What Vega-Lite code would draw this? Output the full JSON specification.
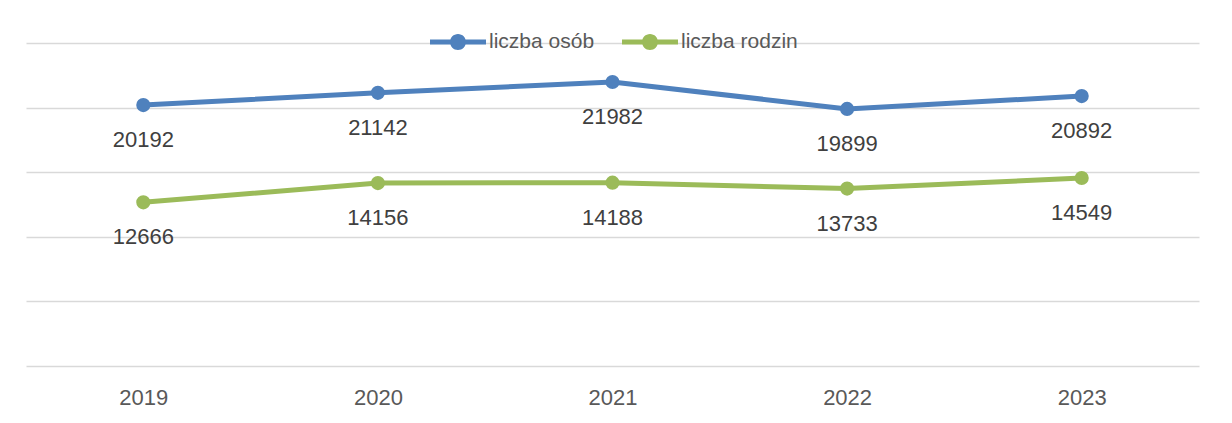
{
  "$schema": "https://vega.github.io/schema/vega-lite/v6.json",
  "width": 1173,
  "height": 323,
  "autosize": "none",
  "padding": {"left": 26, "top": 43, "right": 33, "bottom": 57},
  "background": "white",
  "data": {
    "values": [
      {"rok": "2019", "seria": "liczba osób", "wartosc": 20192},
      {"rok": "2020", "seria": "liczba osób", "wartosc": 21142},
      {"rok": "2021", "seria": "liczba osób", "wartosc": 21982},
      {"rok": "2022", "seria": "liczba osób", "wartosc": 19899},
      {"rok": "2023", "seria": "liczba osób", "wartosc": 20892},
      {"rok": "2019", "seria": "liczba rodzin", "wartosc": 12666},
      {"rok": "2020", "seria": "liczba rodzin", "wartosc": 14156},
      {"rok": "2021", "seria": "liczba rodzin", "wartosc": 14188},
      {"rok": "2022", "seria": "liczba rodzin", "wartosc": 13733},
      {"rok": "2023", "seria": "liczba rodzin", "wartosc": 14549}
    ]
  },
  "encoding": {
    "x": {
      "field": "rok", "type": "ordinal",
      "scale": {"type": "point", "padding": 0.5},
      "axis": {"title": null, "labelAngle": 0, "domain": false, "ticks": false, "tickSize": 0, "grid": false,
               "labelFont": "Liberation Sans", "labelFontSize": 22, "labelColor": "#595959",
               "labelBaseline": "middle", "labelPadding": 31}
    },
    "y": {
      "field": "wartosc", "type": "quantitative",
      "scale": {"domain": [0, 25000], "nice": false, "zero": true},
      "axis": {"title": null, "labels": false, "ticks": false, "domain": false,
               "values": [0, 5000, 10000, 15000, 20000, 25000],
               "grid": true, "gridColor": "#d9d9d9", "gridWidth": 1.5}
    },
    "color": {
      "field": "seria", "type": "nominal",
      "scale": {"domain": ["liczba osób", "liczba rodzin"], "range": ["#4F81BD", "#9BBB59"]},
      "legend": {
        "title": null, "orient": "none", "direction": "horizontal",
        "legendX": 404, "legendY": -29, "padding": 0,
        "symbolType": "M -1 -0.09 L 1 -0.09 L 1 0.09 L -1 0.09 Z M 0.286 0 A 0.286 0.286 0 1 1 -0.286 0 A 0.286 0.286 0 1 1 0.286 0 Z",
        "symbolSize": 3136, "symbolStrokeWidth": 0, "symbolOpacity": 1,
        "labelFont": "Liberation Sans", "labelFontSize": 21, "labelColor": "#595959",
        "labelOffset": 3, "columnPadding": 27,
        "encode": {"symbols": {"update": {"fill": {"scale": "color", "field": "value"}, "strokeWidth": {"value": 0}}}}
      }
    }
  },
  "layer": [
    {"mark": {"type": "line", "strokeWidth": 5}},
    {"mark": {"type": "point", "filled": true, "size": 200, "opacity": 1}},
    {
      "mark": {"type": "text", "dy": 35, "font": "Liberation Sans", "fontSize": 22, "color": "#404040"},
      "encoding": {"text": {"field": "wartosc", "type": "quantitative", "format": "d"}, "color": {"value": "#404040"}}
    }
  ],
  "config": {"view": {"stroke": null}}
}
